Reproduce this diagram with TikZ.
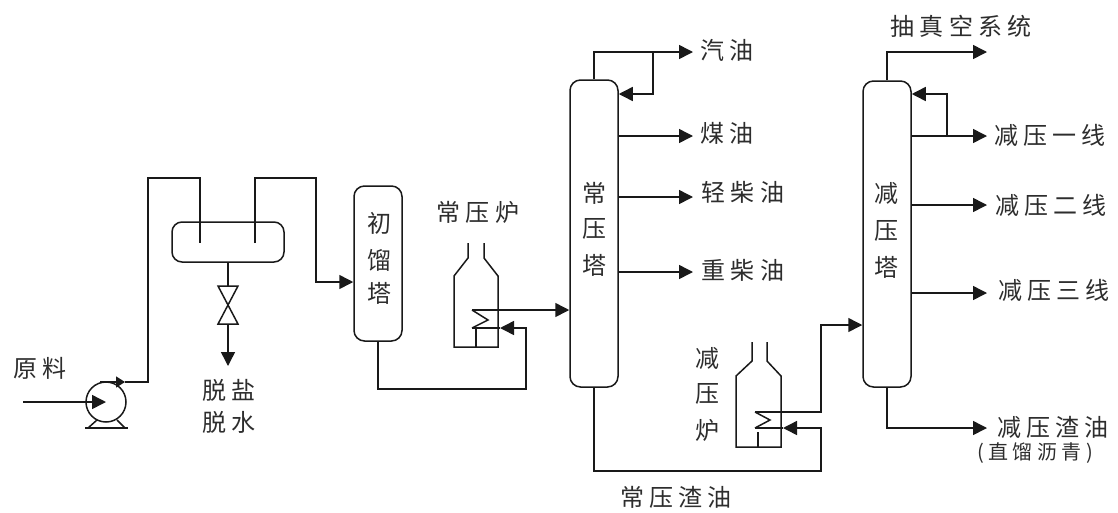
\documentclass[tikz,border=0pt]{standalone}
\usepackage{fontspec}
\usetikzlibrary{
    arrows.meta,
    calc
}
\newfontfamily\cjk[LetterSpace=22]{Noto Sans CJK SC}
\definecolor{PipeBlack}{RGB}{25,25,25}
\definecolor{TextGray}{RGB}{45,45,45}

\begin{document}
\begin{tikzpicture}[
    x=1pt,
    y=-1pt,
    >={Triangle[length=14pt,width=14pt]},
    pipe/.style={line width=1.5pt, PipeBlack},
    tower/.style={draw=PipeBlack, line width=1.5pt, rounded corners=10.5pt, minimum width=48pt, inner sep=0pt},
    tag/.style={font=\cjk\fontsize{24}{24}\selectfont, TextGray, inner sep=0pt, align=center}
]

\useasboundingbox (0,0) rectangle (1118,512);

% Pump
\node[draw=PipeBlack, line width=1.5pt, circle, minimum size=40pt, inner sep=0pt]
    (pump) at (106,402) {};
\coordinate (foota) at (88,428);
\coordinate (footb) at (97,420);
\coordinate (footc) at (117,420);
\coordinate (footd) at (125,428);
\coordinate (basea) at (85,428);
\coordinate (baseb) at (128,428);
\draw[pipe] (basea) -- (baseb);
\draw[pipe] (foota) -- (footb);
\draw[pipe] (footd) -- (footc);

% Desalter
\node[tower, rounded corners=10pt, minimum width=112pt, minimum height=40pt]
    (desalter) at (228,242) {};

% Towers
\node[tower, minimum height=155pt] (pretower) at (378,263.5) {};
\node[tower, minimum height=307pt] (atmtower) at (594,233.5) {};
\node[tower, minimum height=306pt] (vactower) at (887,234) {};

% Tower labels
\node[tag] (pretext) at (379,258) {初\\[13pt]馏\\[9pt]塔};
\node[tag] (atmtext) at (594,229) {常\\[11pt]压\\[13pt]塔};
\node[tag] (vactext) at (886,230) {减\\[13pt]压\\[13pt]塔};

% Feed to desalter
\coordinate (feedin) at (23,402);
\coordinate (pumpout) at (100,382);
\coordinate (pumptip) at (125,382);
\coordinate (risertop) at (148,178);
\coordinate (inlettop) at (200,178);
\coordinate (inlet) at (200,243);
\draw[pipe, ->] (feedin) -- (pump.center);
\draw[pipe, -{Triangle[length=9pt,width=11pt]}] (pumpout) -- (pumptip);
\draw[pipe] (pumptip) -| (risertop) -- (inlettop) -- (inlet);

% Desalter to first tower
\coordinate (outlet) at (255,243);
\coordinate (outlettop) at (255,178);
\coordinate (droptop) at (316,178);
\coordinate (dropend) at (316,282);
\draw[pipe, ->] (outlet) -- (outlettop) -- (droptop) -- (dropend)
    -- (dropend -| pretower.west);

% Valve
\coordinate (valvein) at (228,286);
\coordinate (valvemid) at (228,305);
\coordinate (valveout) at (228,324);
\coordinate (drain) at (228,366);
\draw[pipe] (desalter.south) -- (valvein);
\draw[pipe] ($(valvein)+(-10,0)$) -- ($(valvein)+(10,0)$)
    -- ($(valveout)+(-10,0)$) -- ($(valveout)+(10,0)$) -- cycle;
\draw[pipe, ->] (valveout) -- (drain);

% Atmospheric furnace
\coordinate (afstacka) at (468,243);
\coordinate (afstackb) at (484,243);
\coordinate (afbend) at (498,276);
\coordinate (afcoilout) at (472,310);
\coordinate (afcoilmid) at (488,320);
\coordinate (afcoilin) at (472,328);
\coordinate (afstem) at (476,328);
\coordinate (afbase) at (476,347);
\draw[pipe] (afstacka) -- (468,258) -- (454,276) -- (454,347) -- (498,347)
    -- (afbend) -- (484,258) -- (afstackb);
\draw[pipe] (afcoilout) -- (afcoilmid) -- (afcoilin);
\draw[pipe] (afstem) -- (afbase);

% Vacuum furnace
\coordinate (vfstacka) at (752,342);
\coordinate (vfstackb) at (767,342);
\coordinate (vfbend) at (781,376);
\coordinate (vfcoilout) at (755,412);
\coordinate (vfcoilmid) at (770,420);
\coordinate (vfcoilin) at (755,428);
\coordinate (vfstem) at (758,432);
\coordinate (vfbase) at (758,447);
\draw[pipe] (vfstacka) -- (752,361) -- (736,376) -- (736,447) -- (781,447)
    -- (vfbend) -- (767,361) -- (vfstackb);
\draw[pipe] (vfcoilout) -- (vfcoilmid) -- (vfcoilin);
\draw[pipe] (vfstem) -- (vfbase);

% First tower bottoms through furnace
\coordinate (prebottom) at (526,389);
\coordinate (afinturn) at (526,328);
\coordinate (aftip) at (500,328);
\draw[pipe, ->] (pretower.south) |- (prebottom) -- (afinturn) -- (aftip);
\draw[pipe] (aftip) -- (afcoilin);
\draw[pipe, ->] (afcoilout) -- (afcoilout -| atmtower.west);

% Atmospheric tower bottoms through furnace
\coordinate (atmbottom) at (821,471);
\coordinate (vfinturn) at (821,428);
\coordinate (vftip) at (783,428);
\coordinate (vfriser) at (821,412);
\coordinate (vffeed) at (821,325);
\draw[pipe, ->] (atmtower.south) |- (atmbottom) -- (vfinturn) -- (vftip);
\draw[pipe] (vftip) -- (vfcoilin);
\draw[pipe, ->] (vfcoilout) -- (vfriser) -- (vffeed) -- (vffeed -| vactower.west);

% Atmospheric tower products
\coordinate (gasoline) at (693,52);
\coordinate (atmreflux) at (653,94);
\coordinate (kerosene) at (693,136);
\coordinate (lightdiesel) at (693,197);
\coordinate (heavydiesel) at (693,272);
\draw[pipe, ->] (atmtower.north) |- (gasoline);
\draw[pipe, ->] (atmreflux |- gasoline) -- (atmreflux) -- (atmreflux -| atmtower.east);
\draw[pipe, ->] (kerosene -| atmtower.east) -- (kerosene);
\draw[pipe, ->] (lightdiesel -| atmtower.east) -- (lightdiesel);
\draw[pipe, ->] (heavydiesel -| atmtower.east) -- (heavydiesel);

% Vacuum tower products
\coordinate (vacuum) at (987,52);
\coordinate (vacreflux) at (947,94);
\coordinate (firstcut) at (987,136);
\coordinate (secondcut) at (987,205);
\coordinate (thirdcut) at (987,293);
\coordinate (residue) at (987,428);
\draw[pipe, ->] (vactower.north) |- (vacuum);
\draw[pipe, ->] (vacreflux |- firstcut) -- (vacreflux) -- (vacreflux -| vactower.east);
\draw[pipe, ->] (firstcut -| vactower.east) -- (firstcut);
\draw[pipe, ->] (secondcut -| vactower.east) -- (secondcut);
\draw[pipe, ->] (thirdcut -| vactower.east) -- (thirdcut);
\draw[pipe, ->] (vactower.south) |- (residue);

% Labels
\node[tag] (feedtext) at (40,368) {原料};
\node[tag] (draintext) at (229,406) {脱盐\\[8pt]脱水};
\node[tag] (aftext) at (478,212) {常压炉};
\node[tag] (vftext) at (707,394) {减\\[11pt]压\\[13pt]炉};
\node[tag] (atmbottomtext) at (676,497) {常压渣油};
\node[tag] (gasolinetext) at (727,50) {汽油};
\node[tag] (kerosenetext) at (727,133) {煤油};
\node[tag] (lightdieseltext) at (743,192) {轻柴油};
\node[tag] (heavydieseltext) at (743,270) {重柴油};
\node[tag] (vacuumtext) at (961,26) {抽真空系统};
\node[tag] (firstcuttext) at (1050,135) {减压一线};
\node[tag] (secondcuttext) at (1051,205) {减压二线};
\node[tag] (thirdcuttext) at (1054,290) {减压三线};
\node[tag] (residuetext) at (1053,427) {减压渣油};
\node[tag, font=\cjk\fontsize{20}{22}\selectfont]
    (asphalttext) at (1035,453) {(直馏沥青)};

\end{tikzpicture}
\end{document}
